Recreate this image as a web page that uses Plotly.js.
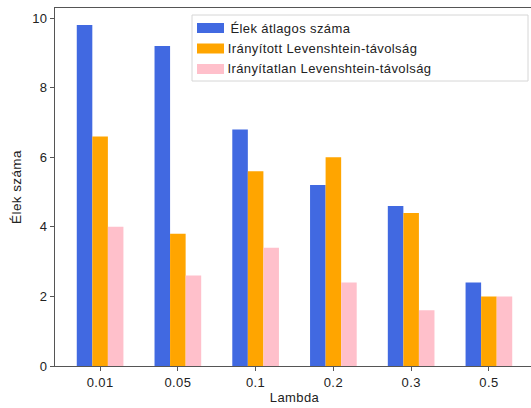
<!DOCTYPE html>
<html>
<head>
<meta charset="utf-8">
<script src="https://cdn.plot.ly/plotly-3.0.1.min.js"></script>
<style>
  html, body { margin: 0; padding: 0; overflow: hidden; background: #fff; }
  #chart { width: 540px; height: 408px; }
  #chart text { letter-spacing: 0.4px; }
</style>
</head>
<body>
<div id="chart"></div>
<script>
// Lambda values (x categories)
const lambdas = ['0.01', '0.05', '0.1', '0.2', '0.3', '0.5'];

// Series values
const avgEdges = [9.8, 9.2, 6.8, 5.2, 4.6, 2.4];
const directedLev = [6.6, 3.8, 5.6, 6.0, 4.4, 2.0];
const undirectedLev = [4.0, 2.6, 3.4, 2.4, 1.6, 2.0];

const seriesNames = [
  'Élek átlagos száma',
  'Irányított Levenshtein-távolság',
  'Irányítatlan Levenshtein-távolság'
];
const seriesColors = ['#4169E1', '#FFA500', '#FFC0CB'];
const seriesValues = [avgEdges, directedLev, undirectedLev];

const yTicks = [0, 2, 4, 6, 8, 10];

const FONT = 'Liberation Sans, Arial, sans-serif';
const SPINE = '#555555';
const TEXT = '#222222';

// plot area in pixels
const W = 540, H = 408;
const M = { l: 55, r: 6, t: 8, b: 42 };
const plotW = W - M.l - M.r, plotH = H - M.t - M.b;
const px2x = px => (px - M.l) / plotW;
const py2y = py => (H - M.b - py) / plotH;

const traces = seriesValues.map((vals, i) => ({
  type: 'bar',
  x: lambdas,
  y: vals,
  name: seriesNames[i],
  marker: { color: seriesColors[i], line: { width: 0 } },
  hoverinfo: 'x+y+name',
  showlegend: false
}));

// legend box drawn as shapes + annotations
const shapes = [{
  type: 'rect', xref: 'paper', yref: 'paper',
  x0: px2x(192), x1: px2x(528), y0: py2y(81), y1: py2y(15),
  fillcolor: 'rgba(255,255,255,0.8)',
  line: { color: '#d6d6d6', width: 1 }
}];
const annotations = [];
const rowCenters = [28, 48.5, 69];
seriesNames.forEach((name, i) => {
  const cy = rowCenters[i];
  shapes.push({
    type: 'rect', xref: 'paper', yref: 'paper',
    x0: px2x(197), x1: px2x(224), y0: py2y(cy + 5), y1: py2y(cy - 5),
    fillcolor: seriesColors[i], line: { width: 0 }
  });
  annotations.push({
    xref: 'paper', yref: 'paper',
    x: px2x(232), y: py2y(cy),
    xanchor: 'left', yanchor: 'middle',
    text: name, showarrow: false,
    font: { family: FONT, size: 13, color: TEXT }
  });
});

const layout = {
  width: W, height: H,
  margin: M,
  paper_bgcolor: '#fff',
  plot_bgcolor: '#fff',
  barmode: 'group',
  bargap: 0.4,
  bargroupgap: 0,
  font: { family: FONT, size: 13, color: TEXT },
  xaxis: {
    type: 'category',
    range: [-0.58, 5.58],
    showgrid: false, zeroline: false,
    showline: true, mirror: true, linecolor: SPINE, linewidth: 1,
    ticks: 'outside', ticklen: 4, tickcolor: SPINE, tickwidth: 1,
    tickfont: { family: FONT, size: 13, color: TEXT },
    title: { text: 'Lambda', standoff: 4, font: { family: FONT, size: 13, color: TEXT } }
  },
  yaxis: {
    range: [0, 10.29],
    tickvals: yTicks,
    ticktext: yTicks.map(String),
    showgrid: false, zeroline: false,
    showline: true, mirror: true, linecolor: SPINE, linewidth: 1,
    ticks: 'outside', ticklen: 4, tickcolor: SPINE, tickwidth: 1,
    tickfont: { family: FONT, size: 13, color: TEXT },
    title: { text: 'Élek száma', standoff: 8, font: { family: FONT, size: 13.5, color: TEXT } }
  },
  shapes: shapes,
  annotations: annotations,
  showlegend: false
};

Plotly.newPlot('chart', traces, layout, { displayModeBar: false, staticPlot: true });
</script>
</body>
</html>
